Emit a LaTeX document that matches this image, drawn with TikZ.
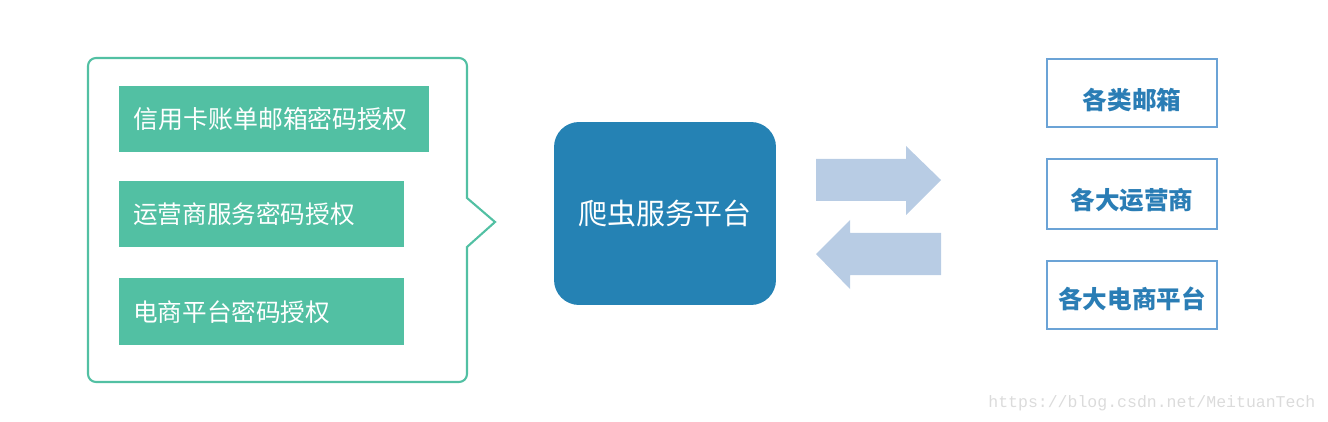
\documentclass[tikz,border=0pt]{standalone}
\usepackage{fontspec}
\setmainfont{Noto Sans CJK SC}
\setmonofont{Liberation Mono}
\definecolor{authgreen}{HTML}{52C0A3}
\definecolor{crawlblue}{HTML}{2582B4}
\definecolor{arrowblue}{HTML}{B8CCE4}
\definecolor{siteline}{HTML}{6BA3D6}
\definecolor{sitetext}{HTML}{2A7DB5}

\begin{document}
\begin{tikzpicture}[x=0.02cm, y=-0.02cm,
    authbox/.style={fill=authgreen, text=white, align=left, anchor=north west, inner xsep=0.28cm, inner ysep=0pt, minimum height=#1},
    sitebox/.style={draw=siteline, line width=1.2pt, minimum width=3.4cm, minimum height=1.36cm, anchor=north west},
    sitelabel/.style={text=sitetext, font=\fontsize{14}{16}\selectfont\bfseries, inner sep=0pt}]
    \useasboundingbox (0,0) rectangle (1328,422);

    % callout frame
    \draw[authgreen, line width=1.2pt, rounded corners=0.16cm] (280,382) -- (88,382) -- (88,58) -- (467,58) [sharp corners] -- (467,198) -- (495,222) -- (467,247) [rounded corners=0.16cm] -- (467,382) -- cycle;

    \node (card) [authbox=1.32cm, text width=5.64cm, font=\fontsize{14.2}{16}\selectfont] at (119,86) {信用卡账单邮箱密码授权};
    \node (carrier) [authbox=1.32cm, text width=5.14cm, font=\fontsize{14}{16}\selectfont] at (119,181) {运营商服务密码授权};
    \node (shop) [authbox=1.34cm, text width=5.14cm, font=\fontsize{14}{16}\selectfont] at (119,278) {电商平台密码授权};

    \node (crawler) [fill=crawlblue, text=white, rounded corners=0.5cm, minimum width=4.44cm, minimum height=3.66cm, font=\fontsize{16.5}{18}\selectfont] at (665,213.5) {爬虫服务平台};

    % block arrows
    \fill[arrowblue] (816,159) -- (906,159) -- (906,146) -- (941,180) -- (906,215) -- (906,201) -- (816,201) -- cycle;
    \fill[arrowblue] (941,233) -- (850,233) -- (850,220) -- (816,254) -- (850,289) -- (850,275) -- (941,275) -- cycle;

    \node (mail) [sitebox] at (1046,58) {};
    \node (mailtext) [sitelabel] at ([yshift=-0.14cm]mail.center) {各类邮箱};
    \node (telecom) [sitebox, minimum height=1.4cm] at (1046,158) {};
    \node (telecomtext) [sitelabel] at ([yshift=-0.13cm]telecom.center) {各大运营商};
    \node (ecom) [sitebox] at (1046,260) {};
    \node (ecomtext) [sitelabel] at ([yshift=-0.08cm]ecom.center) {各大电商平台};

    \node (mark) [text=black!14, font=\ttfamily\fontsize{9.4}{11}\selectfont, anchor=west, inner sep=0pt] at (988,403) {https://blog.csdn.net/MeituanTech};
\end{tikzpicture}
\end{document}
